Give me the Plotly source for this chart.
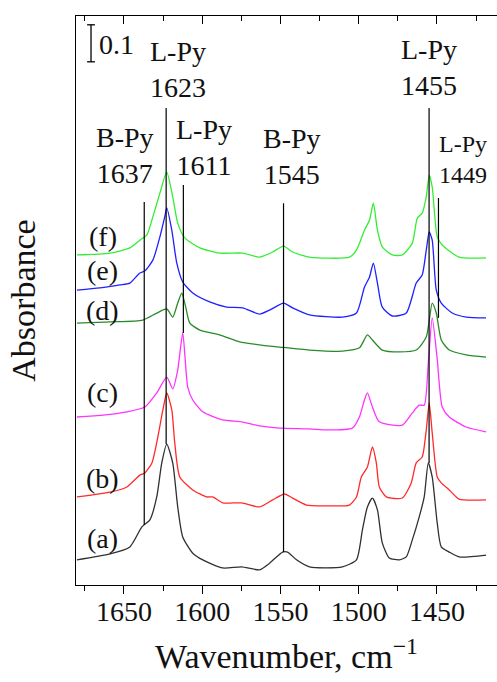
import plotly.graph_objects as go

# ---------------- data (wavenumber, stacked absorbance) ----------------
wn_a = [1680, 1658.9, 1646.2, 1638.5, 1633.4, 1629, 1625.8, 1622.6, 1618.8, 1615.6, 1612.4, 1606, 1599.6, 1586.9,
        1574.8, 1563.3, 1556.9, 1548.6, 1545.4, 1539.7, 1531.4, 1510.4, 1501.4, 1497.6, 1494.4, 1491.2, 1488,
        1484.9, 1480.4, 1474, 1469.6, 1465.7, 1461.3, 1458.1, 1455.5, 1453, 1449.8, 1447.2, 1442.1, 1435.8, 1418.6]
abs_a = [0.068, 0.084, 0.103, 0.157, 0.176, 0.238, 0.330, 0.381, 0.330, 0.211, 0.130, 0.086, 0.068, 0.046,
         0.049, 0.041, 0.059, 0.089, 0.089, 0.068, 0.049, 0.049, 0.068, 0.149, 0.211, 0.235, 0.203,
         0.114, 0.073, 0.068, 0.076, 0.122, 0.184, 0.238, 0.330, 0.292, 0.168, 0.103, 0.089, 0.076, 0.081]

wn_b = [1680, 1658.9, 1648.1, 1639.8, 1636.6, 1632.1, 1628.3, 1625.1, 1622.6, 1619.4, 1617.5, 1614.3, 1606, 1597.1,
        1593.3, 1586.9, 1574.8, 1563.3, 1555, 1547.3, 1542.2, 1533.3, 1520.6, 1505.9, 1501.4, 1498.3, 1494.4,
        1491.2, 1488.7, 1486.8, 1482.3, 1472.1, 1466.4, 1463.2, 1459.4, 1456.8, 1454.9, 1453, 1449.8, 1447.2,
        1442.1, 1435.8, 1418.6]
abs_b = [0.238, 0.251, 0.265, 0.297, 0.303, 0.330, 0.400, 0.473, 0.519, 0.473, 0.384, 0.292, 0.257, 0.238,
         0.238, 0.222, 0.222, 0.211, 0.230, 0.246, 0.235, 0.216, 0.214, 0.216, 0.238, 0.292, 0.319,
         0.373, 0.330, 0.265, 0.238, 0.235, 0.276, 0.330, 0.346, 0.419, 0.492, 0.411, 0.292, 0.276,
         0.257, 0.232, 0.230]

wn_c = [1680, 1663.4, 1648.1, 1636.6, 1629, 1622.6, 1618.8, 1615.6, 1612.4, 1609.2, 1606, 1599.6, 1586.9, 1574.8,
        1563.3, 1550.5, 1531.4, 1520.6, 1504, 1499.5, 1496.3, 1494.4, 1491.2, 1486.8, 1472.1, 1465.7, 1461.3,
        1458.1, 1455.5, 1453, 1449.8, 1446.6, 1442.1, 1431.3, 1418.6]
abs_c = [0.454, 0.459, 0.468, 0.481, 0.519, 0.562, 0.530, 0.581, 0.681, 0.535, 0.500, 0.468, 0.446, 0.441,
         0.430, 0.424, 0.422, 0.419, 0.424, 0.454, 0.500, 0.519, 0.481, 0.441, 0.432, 0.465, 0.486,
         0.486, 0.600, 0.722, 0.611, 0.481, 0.454, 0.427, 0.414]

wn_d = [1680, 1658.9, 1637.9, 1629, 1622.6, 1618.8, 1615.6, 1613, 1610.5, 1607.9, 1601.5, 1588.8, 1576, 1563.3,
        1550.5, 1531.4, 1510.4, 1499.5, 1494.4, 1491.2, 1484.9, 1474, 1463.2, 1456.8, 1453, 1450.4, 1447.2,
        1442.1, 1431.3, 1418.6]
abs_d = [0.708, 0.711, 0.716, 0.735, 0.746, 0.724, 0.762, 0.789, 0.751, 0.708, 0.689, 0.676, 0.657, 0.649,
         0.643, 0.635, 0.632, 0.641, 0.676, 0.662, 0.635, 0.630, 0.635, 0.670, 0.762, 0.735, 0.662,
         0.635, 0.622, 0.616]

wn_e = [1680, 1665.3, 1652.6, 1646.2, 1639.8, 1636.6, 1631.5, 1627, 1623.9, 1622.6, 1619.4, 1616.2, 1612.4, 1606,
        1595.2, 1584.3, 1574.1, 1563.3, 1556.9, 1548, 1542.2, 1531.4, 1510.4, 1501.4, 1496.3, 1493.1, 1490.6,
        1488, 1484.9, 1478.5, 1469.6, 1463.2, 1459.4, 1456.8, 1454.9, 1453, 1450.4, 1447.2, 1440.2, 1431.3,
        1418.6]
abs_e = [0.797, 0.803, 0.811, 0.816, 0.843, 0.849, 0.878, 0.941, 0.995, 1.019, 0.959, 0.870, 0.819, 0.789,
         0.765, 0.751, 0.749, 0.732, 0.743, 0.762, 0.749, 0.730, 0.724, 0.735, 0.805, 0.832, 0.870,
         0.816, 0.751, 0.727, 0.735, 0.816, 0.838, 0.905, 0.954, 0.932, 0.797, 0.762, 0.735, 0.724,
         0.722]

wn_f = [1680, 1658.9, 1646.2, 1639.8, 1635.3, 1631.5, 1627, 1622.6, 1618.8, 1615.6, 1611.1, 1601.5, 1588.8, 1574.1,
        1563.3, 1555, 1548, 1542.2, 1531.4, 1505.9, 1501.4, 1496.3, 1493.1, 1490.6, 1488, 1484.9, 1478.5,
        1472.1, 1465.7, 1462.5, 1459.4, 1456.8, 1454.9, 1453, 1449.8, 1446.6, 1435.8, 1418.6]
abs_f = [0.892, 0.897, 0.911, 0.932, 0.946, 0.995, 1.059, 1.116, 1.049, 0.978, 0.938, 0.911, 0.897, 0.897,
         0.886, 0.900, 0.916, 0.900, 0.886, 0.886, 0.905, 0.959, 0.986, 1.032, 0.959, 0.914, 0.892,
         0.892, 0.924, 0.992, 1.005, 1.049, 1.108, 1.076, 0.941, 0.919, 0.886, 0.884]

series_names = ["(a)", "(b)", "(c)", "(d)", "(e)", "(f)"]
series_colors = ["#303030", "#ff2a2a", "#ff33ff", "#2a8a2a", "#2020ff", "#33ee33"]
series_wn = [wn_a, wn_b, wn_c, wn_d, wn_e, wn_f]
series_abs = [abs_a, abs_b, abs_c, abs_d, abs_e, abs_f]
series_label_y = [0.127, 0.289, 0.519, 0.743, 0.851, 0.941]

# band markers
band_wn = [1637, 1623, 1612, 1548, 1455, 1449]
band_top = [1.035, 1.289, 1.081, 1.032, 1.289, 1.046]
band_bottom = [0.162, 0.381, 0.681, 0.089, 0.330, 0.722]
band_text = ["B-Py<br>1637", "L-Py<br>1623", "L-Py<br>1611", "B-Py<br>1545", "L-Py<br>1455", "L-Py<br>1449"]
band_text_x = [1649.4, 1615.3, 1598.7, 1542.9, 1454.9, 1433.2]
band_text_y = [1.160, 1.392, 1.182, 1.158, 1.399, 1.149]

scale_value = 0.1

FONT = "'Liberation Serif', 'Times New Roman', Times, serif"

fig = go.Figure()
for i, (nm, col, x, y) in enumerate(zip(series_names, series_colors, series_wn, series_abs)):
    fig.add_trace(go.Scatter(x=x, y=y, mode="lines", name=nm,
                             line=dict(color=col, width=1.3, shape="spline", smoothing=0.6),
                             xaxis="x2" if i == 5 else "x", showlegend=False))

shapes = []
for w, t, b in zip(band_wn, band_top, band_bottom):
    shapes.append(dict(type="line", xref="x", yref="y", x0=w, x1=w, y0=b, y1=t,
                       line=dict(color="black", width=1.2)))
# scale bar
sb_x, sb_y0 = 1671, 1.414
shapes.append(dict(type="line", xref="x", yref="y", x0=sb_x, x1=sb_x, y0=sb_y0, y1=sb_y0 + scale_value,
                   line=dict(color="black", width=1.3)))
for yy in (sb_y0, sb_y0 + scale_value):
    shapes.append(dict(type="line", xref="x", yref="y", x0=sb_x + 2.5, x1=sb_x - 2.5, y0=yy, y1=yy,
                       line=dict(color="black", width=1.3)))

annotations = []
for tx, xx, yy in zip(band_text, band_text_x, band_text_y):
    small = tx.endswith("1449")
    annotations.append(dict(text=tx, x=xx, y=yy, xref="x", yref="y", showarrow=False,
                            font=dict(family=FONT, size=24 if small else 28, color="#111"),
                            align="center"))
for nm, yy in zip(series_names, series_label_y):
    annotations.append(dict(text=nm, x=1663.4, y=yy, xref="x", yref="y", showarrow=False,
                            font=dict(family=FONT, size=28, color="#111")))
annotations.append(dict(text=str(scale_value), x=1654.5, y=1.462, xref="x", yref="y", showarrow=False,
                        font=dict(family=FONT, size=28, color="#111")))

xr = [1680.6, 1411.6]
fig.update_layout(
    width=497, height=682,
    margin=dict(l=76, r=0, t=16, b=97),
    paper_bgcolor="white", plot_bgcolor="white",
    font=dict(family=FONT, color="#111"),
    shapes=shapes, annotations=annotations,
    xaxis=dict(range=xr, tickvals=[1650, 1600, 1550, 1500, 1450], ticks="outside", ticklen=8,
               tickcolor="black", showline=True, linecolor="black", linewidth=1.3,
               ticklabelstandoff=-7,
               minor=dict(tickvals=[1675, 1625, 1575, 1525, 1475, 1425], ticks="outside", ticklen=5,
                          tickcolor="black"),
               showgrid=False, zeroline=False,
               tickfont=dict(family=FONT, size=28, color="#111"),
               title=dict(text="Wavenumber, cm<sup>\u22121</sup>", font=dict(family=FONT, size=34, color="#111"),
                          standoff=18)),
    xaxis2=dict(range=xr, matches="x", overlaying="x", side="top", anchor="y",
                tickvals=[1650, 1600, 1550, 1500, 1450], ticks="inside", ticklen=8, tickcolor="black",
                showticklabels=False, showline=True, linecolor="black", linewidth=1.3,
                minor=dict(tickvals=[1675, 1625, 1575, 1525, 1475, 1425], ticks="inside", ticklen=5,
                           tickcolor="black"),
                showgrid=False, zeroline=False),
    yaxis=dict(range=[0, 1.5378], showticklabels=False, ticks="", showline=True, linecolor="black",
               linewidth=1.3, showgrid=False, zeroline=False,
               title=dict(text="Absorbance", font=dict(family=FONT, size=34, color="#111"), standoff=28)),
)

fig.write_html("out.html")
